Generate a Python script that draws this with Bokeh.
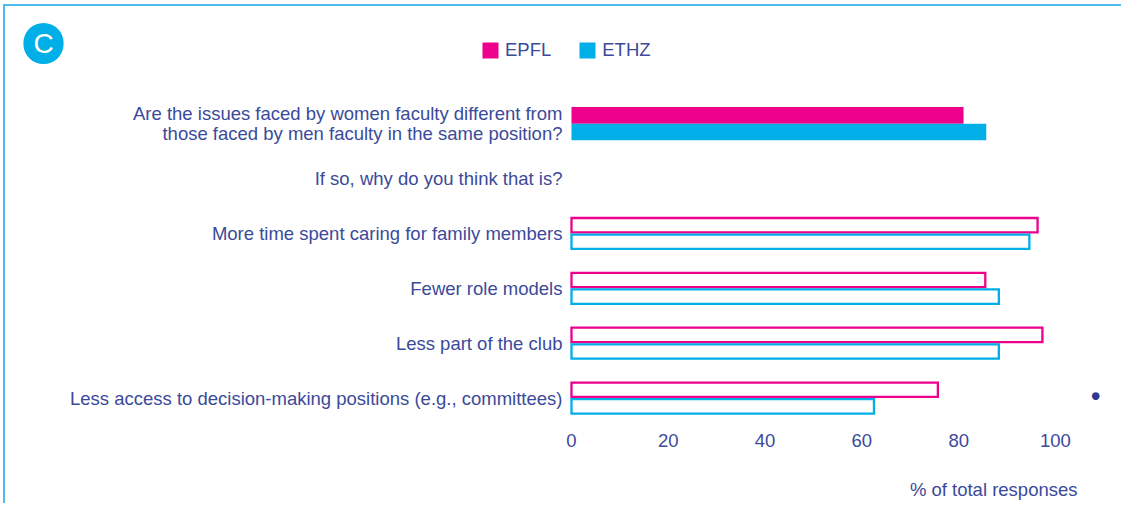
from bokeh.plotting import figure
from bokeh.models import Range1d, FixedTicker, Label, Legend, LegendItem, ColumnDataSource, Title
from bokeh.transform import dodge
from bokeh.core.properties import value
from bokeh.embed import file_html
from bokeh.resources import INLINE

# ---------------- data ----------------
categories = [
    "Are the issues faced by women faculty different from\nthose faced by men faculty in the same position?",
    "If so, why do you think that is?",
    "More time spent caring for family members",
    "Fewer role models",
    "Less part of the club",
    "Less access to decision-making positions (e.g., committees)",
]
question_rows = [0]
question_epfl = [81.0]
question_ethz = [85.7]
reason_rows = [2, 3, 4, 5]
reason_epfl = [96.3, 85.5, 97.3, 75.7]
reason_ethz = [94.6, 88.3, 88.3, 62.5]
x_ticks = [0, 20, 40, 60, 80, 100]
series = ["EPFL", "ETHZ"]
axis_title = "% of total responses"
badge_text = "C"

# ---------------- style ----------------
EPFL_C = "#ec008c"
ETHZ_C = "#00aee8"
TEXT_C = "#3b4a9a"
DOT_C = "#2e3a8f"
BORDER_C = "#4dbbea"
FONT = "Liberation Sans"
FS = "18.5px"

n = len(categories)
ypos = lambda rows: [n - 1 - r for r in rows]

q_src = ColumnDataSource(dict(y=ypos(question_rows), epfl=question_epfl, ethz=question_ethz))
r_src = ColumnDataSource(dict(y=ypos(reason_rows), epfl=reason_epfl, ethz=reason_ethz))
c_src = ColumnDataSource(dict(y=[n - 1 - i for i in range(n)], label=categories,
                              x=[0] * n))

p = figure(
    width=1118, height=499,
    x_range=Range1d(-116.94, 104.55), y_range=Range1d(-0.5, 7.136),
    output_backend="svg", toolbar_location=None,
    min_border_left=0, min_border_right=46, min_border_top=0, min_border_bottom=79,
    background_fill_color="white", border_fill_color="white",
    styles={"margin-left": "3px", "margin-top": "4px",
            "border-left": "2px solid " + BORDER_C, "border-top": "2px solid " + BORDER_C},
)
p.outline_line_color = None
p.xgrid.grid_line_color = None
p.ygrid.grid_line_color = None
p.yaxis.visible = False

# solid bars (question)
h_solid = 0.3036
r_q_epfl = p.hbar(y=dodge("y", h_solid / 2), left=0, right="epfl", height=h_solid,
                  source=q_src, fill_color=EPFL_C, line_color=None)
r_q_ethz = p.hbar(y=dodge("y", -h_solid / 2), left=0, right="ethz", height=h_solid,
                  source=q_src, fill_color=ETHZ_C, line_color=None)

# outline bars (reasons)
h_out = 0.262
off = 0.151
p.hbar(y=dodge("y", off), left=0, right="epfl", height=h_out, source=r_src,
       fill_color="white", line_color=EPFL_C, line_width=2.3, line_join="miter")
p.hbar(y=dodge("y", -off), left=0, right="ethz", height=h_out, source=r_src,
       fill_color="white", line_color=ETHZ_C, line_width=2.3, line_join="miter")

# category labels
p.text(x="x", y="y", text="label", source=c_src, x_offset=-9,
       text_align="right", text_baseline="middle", text_font=value(FONT),
       text_font_size=FS, text_color=TEXT_C, text_line_height=0.98)

# x axis
xax = p.xaxis[0]
xax.ticker = FixedTicker(ticks=x_ticks)
xax.axis_line_color = None
xax.major_tick_line_color = None
xax.minor_tick_line_color = None
xax.major_tick_out = 0
xax.major_tick_in = 0
xax.major_label_standoff = 8
xax.major_label_text_font = FONT
xax.major_label_text_font_size = FS
xax.major_label_text_color = TEXT_C

# x axis title, right-aligned under the axis
p.add_layout(Title(text="\n" + axis_title, align="right", offset=0, standoff=12,
                   text_font=FONT, text_font_size=FS, text_font_style="normal",
                   text_color=TEXT_C, text_line_height=1.0), "below")

# legend
legend = Legend(items=[LegendItem(label=series[0], renderers=[r_q_epfl]),
                       LegendItem(label=series[1], renderers=[r_q_ethz])],
                location=(475, 364), orientation="horizontal",
                glyph_width=20, glyph_height=20, label_standoff=5, spacing=26,
                padding=0, margin=0, border_line_color=None, background_fill_alpha=0,
                label_text_font=FONT, label_text_font_size=FS, label_text_color=TEXT_C,
                label_height=20)
p.add_layout(legend)

# badge
p.add_layout(Label(x=38, y=382, x_units="screen", y_units="screen", text=badge_text,
                   text_align="center", text_baseline="middle", text_font=FONT,
                   text_font_size="28px", text_color="white",
                   background_fill_color=ETHZ_C, border_radius=20, padding=(10, 5)))

# small dot marker at the right edge
p.add_layout(Title(text="\u25cf", align="right", offset=25, standoff=26,
                   text_font="DejaVu Sans", text_font_size="10px",
                   text_font_style="normal", text_color=DOT_C), "right")

open("out.html", "w").write(file_html(p, INLINE))
